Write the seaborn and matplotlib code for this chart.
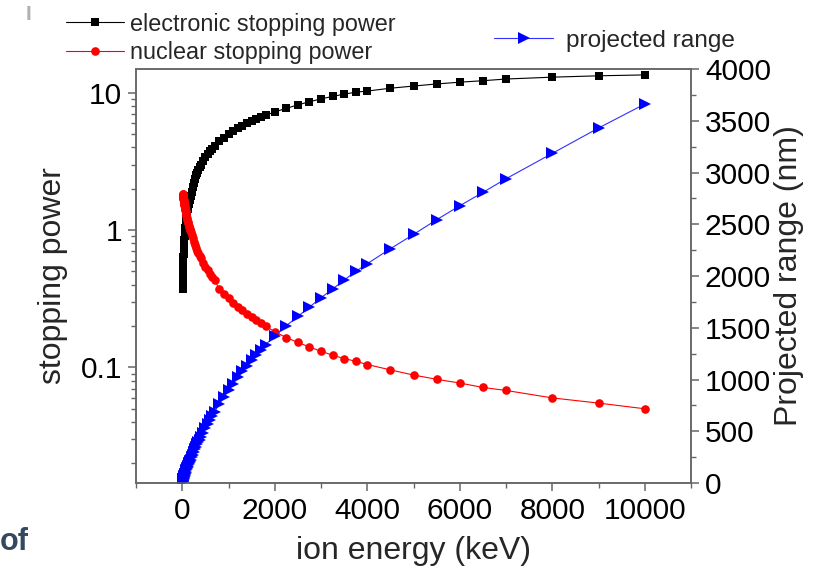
import numpy as np
import pandas as pd
import matplotlib
matplotlib.use("Agg")
import matplotlib.pyplot as plt
from matplotlib.ticker import LogLocator, FixedLocator, MultipleLocator, FuncFormatter, NullFormatter
import seaborn as sns

# Ion energies (keV)
energy = [10, 11, 12, 13, 14, 15, 16, 17, 18, 20, 22.5, 25, 27.5, 30, 32.5, 35, 37.5, 40,
          45, 50, 55, 60, 65, 70, 80, 90, 100, 110, 120, 130, 140, 150, 160, 170, 180,
          200, 225, 250, 275, 300, 325, 350, 375, 400, 450, 500, 550, 600, 650, 700,
          800, 900, 1000, 1100, 1200, 1300, 1400, 1500, 1600, 1700, 1800, 2000,
          2250, 2500, 2750, 3000, 3250, 3500, 3750, 4000, 4500, 5000, 5500, 6000,
          6500, 7000, 8000, 9000, 10000]

# Electronic stopping power
electronic = [0.37, 0.40, 0.42, 0.44, 0.46, 0.48, 0.50, 0.52, 0.54, 0.57, 0.60, 0.64, 0.67,
              0.70, 0.72, 0.75, 0.78, 0.80, 0.85, 0.90, 0.95, 0.99, 1.03, 1.07, 1.15, 1.22,
              1.29, 1.36, 1.42, 1.48, 1.54, 1.60, 1.66, 1.72, 1.78, 1.90, 2.05, 2.20, 2.35,
              2.50, 2.62, 2.75, 2.87, 2.98, 3.20, 3.40, 3.58, 3.76, 3.93, 4.10, 4.42, 4.72,
              5.04, 5.30, 5.55, 5.78, 6.00, 6.20, 6.42, 6.64, 6.85, 7.27,
              7.70, 8.18, 8.60, 9.04, 9.41, 9.78, 10.10, 10.30, 10.80, 11.20, 11.60,
              11.95, 12.25, 12.60, 13.00, 13.30, 13.50]

# Nuclear stopping power
nuclear = [1.83, 1.82, 1.81, 1.80, 1.79, 1.78, 1.77, 1.76, 1.75, 1.73, 1.71, 1.69, 1.66,
           1.64, 1.62, 1.60, 1.58, 1.56, 1.52, 1.49, 1.46, 1.43, 1.40, 1.37, 1.32, 1.27,
           1.23, 1.19, 1.15, 1.12, 1.08, 1.05, 1.02, 1.00, 0.97, 0.92, 0.87, 0.82, 0.78,
           0.74, 0.71, 0.68, 0.65, 0.63, 0.58, 0.54, 0.51, 0.48, 0.455, 0.43, 0.375, 0.345,
           0.318, 0.296, 0.277, 0.26, 0.245, 0.232, 0.22, 0.21, 0.20, 0.182,
           0.165, 0.152, 0.141, 0.131, 0.123, 0.116, 0.111, 0.105, 0.096, 0.088, 0.082,
           0.077, 0.0715, 0.068, 0.060, 0.055, 0.050]

# Projected range (nm)
proj_range = [15, 17, 18, 20, 21, 23, 24, 26, 27, 30, 34, 37, 41, 44, 48, 51, 54, 58,
              64, 71, 77, 84, 90, 96, 109, 121, 133, 145, 157, 169, 180, 192, 203, 214, 225,
              247, 273, 299, 324, 349, 373, 397, 420, 443, 488, 531, 573, 613, 652, 690,
              763, 832, 898, 960, 1020, 1078, 1133, 1186, 1238, 1287, 1335, 1425,
              1520, 1610, 1700, 1790, 1874, 1961, 2044, 2119, 2264, 2402, 2544, 2679,
              2808, 2940, 3185, 3430, 3662]

df = pd.DataFrame({"energy": energy, "electronic": electronic,
                   "nuclear": nuclear, "range": proj_range})

sns.set_theme(style="ticks")
plt.rcParams["font.family"] = ["Liberation Sans", "DejaVu Sans"]

fig = plt.figure(figsize=(8.13, 5.70), dpi=100)
ax = fig.add_axes([0.1673, 0.1526, 0.6827, 0.7263])
ax2 = ax.twinx()

sns.lineplot(data=df, x="energy", y="electronic", ax=ax, color="black", marker="s",
             markersize=5.4, markeredgewidth=0, linewidth=0.8, sort=False,
             label="electronic stopping power", errorbar=None)
sns.lineplot(data=df, x="energy", y="nuclear", ax=ax, color="red", marker="o",
             markersize=6.2, markeredgewidth=0, linewidth=0.8, sort=False,
             label="nuclear stopping power", errorbar=None)
sns.lineplot(data=df, x="energy", y="range", ax=ax2, color="blue", marker=">",
             markersize=8, markeredgewidth=0, linewidth=0.8, sort=False,
             label="projected range", errorbar=None)
ax2.lines[0].set_color("#3030ff")
ax2.lines[0].set_markerfacecolor("blue")

ax.set_yscale("log")
ax.set_xlim(-1000, 11000)
ax.set_ylim(0.0144, 14.9)
ax2.set_ylim(0, 4000)

tick_fs = 21.5
label_fs = 23
spine_c = "#666666"

ax.xaxis.set_major_locator(FixedLocator([0, 2000, 4000, 6000, 8000, 10000]))
ax.xaxis.set_minor_locator(MultipleLocator(1000))
ax.yaxis.set_major_locator(FixedLocator([0.1, 1, 10]))
ax.yaxis.set_major_formatter(FuncFormatter(lambda v, p: f"{v:g}"))
ax.yaxis.set_minor_locator(LogLocator(base=10, subs=np.arange(2, 10)))
ax.yaxis.set_minor_formatter(NullFormatter())
ax2.yaxis.set_major_locator(MultipleLocator(500))
ax2.yaxis.set_minor_locator(MultipleLocator(250))

for a in (ax, ax2):
    for s in a.spines.values():
        s.set_color(spine_c)
        s.set_linewidth(1.1)
    a.tick_params(which="major", length=6, width=1.1, color=spine_c,
                  labelsize=tick_fs, labelcolor="black", pad=4)
    a.tick_params(which="minor", length=3.5, width=1.0, color=spine_c)
ax.tick_params(axis="y", which="both", left=True, right=False)
ax2.tick_params(axis="y", which="both", right=True, left=False)

ax.set_xlabel("ion energy (keV)", fontsize=label_fs, labelpad=8)
ax.set_ylabel("stopping power", fontsize=label_fs, labelpad=9)
ax2.set_ylabel("Projected range (nm)", fontsize=label_fs, labelpad=2)

ax.legend(loc="upper left", bbox_to_anchor=(0.078, 0.982), bbox_transform=fig.transFigure,
          frameon=False, fontsize=16.8, handlelength=2.5, handletextpad=0.25,
          labelspacing=0.22, borderpad=0.1, borderaxespad=0)
ax2.legend(loc="upper left", bbox_to_anchor=(0.605, 0.952), bbox_transform=fig.transFigure,
           frameon=False, fontsize=17.6, handlelength=2.4, handletextpad=0.55,
           borderpad=0.1, borderaxespad=0)

fig.text(0.0, 0.022, "of", fontsize=22, fontweight="bold", color="#34495e",
         ha="left", va="bottom")
fig.text(0.031, 0.992, "I", fontsize=15, fontweight="bold", color="#b0b0b0",
         ha="left", va="top")

fig.savefig("out.png", dpi=100)
